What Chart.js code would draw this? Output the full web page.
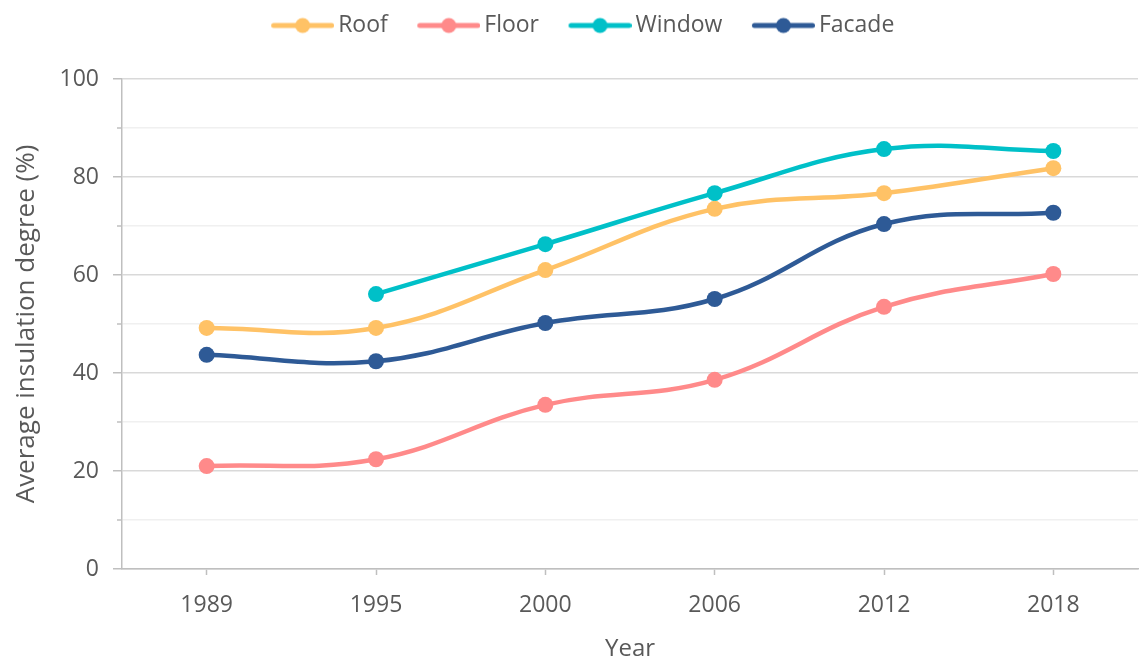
<!DOCTYPE html>
<html>
<head>
<meta charset="utf-8">
<script src="https://cdn.jsdelivr.net/npm/chart.js@4/dist/chart.umd.min.js"></script>
<style>
  html, body { margin: 0; padding: 0; background: #fff; overflow: hidden; }
  #wrap { position: absolute; left: 0; top: 0; width: 1146px; height: 664px; }
</style>
</head>
<body>
<div id="wrap"><canvas id="chart1"></canvas></div>
<script>
const years = ['1989', '1995', '2000', '2006', '2012', '2018'];
const roof = [49.2, 49.2, 61.0, 73.5, 76.7, 81.8];
const floor = [21.0, 22.4, 33.5, 38.6, 53.5, 60.2];
const windowDeg = [null, 56.1, 66.3, 76.7, 85.7, 85.3];
const facade = [43.7, 42.4, 50.2, 55.1, 70.4, 72.7];

const colors = ['#ffc266', '#ff8a8a', '#00c0c8', '#2e5a96'];
const textColor = '#595959';
const fontFamily = '"Open Sans", sans-serif';

// legend swatch: line with a dot, left part of the canvas left empty as spacing
function legendIcon(color) {
  const c = document.createElement('canvas');
  c.width = 90;
  c.height = 18;
  const g = c.getContext('2d');
  g.strokeStyle = color;
  g.lineWidth = 5;
  g.lineCap = 'round';
  g.beginPath();
  g.moveTo(29.5, 9);
  g.lineTo(87.5, 9);
  g.stroke();
  g.fillStyle = color;
  g.beginPath();
  g.arc(58.5, 9, 7.5, 0, Math.PI * 2);
  g.fill();
  return c;
}
const icons = colors.map(legendIcon);

// extra room between the legend row and the plot
const legendGap = {
  id: 'legendGap',
  beforeLayout(chart) {
    const lg = chart.legend;
    if (lg && !lg._gapAdded) {
      const fit = lg.fit;
      lg.fit = function() {
        fit.call(this);
        this.height += 32;
      };
      lg._gapAdded = true;
    }
  }
};

// short ticks for the unlabelled 10-step values
const minorTicks = {
  id: 'minorTicks',
  afterDraw(chart) {
    const y = chart.scales.y;
    const ctx = chart.ctx;
    ctx.save();
    ctx.strokeStyle = '#bfbfbf';
    ctx.lineWidth = 1.5;
    y.ticks.forEach(t => {
      if (t.value % 20 !== 0) {
        const py = y.getPixelForValue(t.value);
        ctx.beginPath();
        ctx.moveTo(y.right - 5, py);
        ctx.lineTo(y.right, py);
        ctx.stroke();
      }
    });
    ctx.restore();
  }
};

function series(label, data, color) {
  return {
    label: label,
    data: data,
    borderColor: color,
    backgroundColor: color,
    borderWidth: 4.5,
    pointRadius: 8,
    pointHoverRadius: 8,
    pointBorderWidth: 0,
    tension: 0.4,
    spanGaps: false
  };
}

const ctx = document.getElementById('chart1').getContext('2d');

const chart1 = new Chart(ctx, {
  type: 'line',
  data: {
    labels: years,
    datasets: [
      series('Roof', roof, colors[0]),
      series('Floor', floor, colors[1]),
      series('Window', windowDeg, colors[2]),
      series('Facade', facade, colors[3])
    ]
  },
  options: {
    responsive: true,
    maintainAspectRatio: false,
    animation: false,
    layout: { padding: { top: 4, left: 0, right: 0, bottom: 0 } },
    plugins: {
      tooltip: { enabled: false },
      legend: {
        position: 'top',
        labels: {
          usePointStyle: true,
          pointStyleWidth: 75,
          padding: 10,
          color: textColor,
          font: { family: fontFamily, size: 23 },
          generateLabels(chart) {
            const items = Chart.defaults.plugins.legend.labels.generateLabels(chart);
            items.forEach((item, i) => { item.pointStyle = icons[i]; });
            return items;
          }
        }
      }
    },
    scales: {
      x: {
        offset: true,
        grid: {
          offset: false,
          drawOnChartArea: false,
          tickLength: 6,
          tickColor: '#bfbfbf',
          tickWidth: 1.5
        },
        border: { color: '#bfbfbf', width: 1.5 },
        ticks: {
          color: textColor,
          padding: 17,
          font: { family: fontFamily, size: 23 }
        },
        title: {
          display: true,
          text: 'Year',
          color: textColor,
          font: { family: fontFamily, size: 24 },
          padding: { top: 0, bottom: 0 }
        },
        afterFit(scale) { scale.height = 95; }
      },
      y: {
        min: 0,
        max: 100,
        ticks: {
          stepSize: 10,
          color: textColor,
          padding: 14,
          font: { family: fontFamily, size: 23 },
          callback: v => (v % 20 === 0 ? v : '')
        },
        grid: {
          color: c => (c.tick && c.tick.value % 20 === 0 ? '#d9d9d9' : '#f0f0f0'),
          lineWidth: 1.5,
          tickLength: 9,
          tickColor: c => (c.tick && c.tick.value % 20 === 0 ? '#bfbfbf' : 'transparent'),
          tickWidth: 1.5
        },
        border: { color: '#bfbfbf', width: 1.5 },
        title: {
          display: true,
          text: 'Average insulation degree (%)',
          color: textColor,
          font: { family: fontFamily, size: 26 },
          padding: { top: 11, bottom: 0 }
        },
        afterFit(scale) { scale.width = 122; }
      }
    }
  },
  plugins: [legendGap, minorTicks]
});
</script>
</body>
</html>
